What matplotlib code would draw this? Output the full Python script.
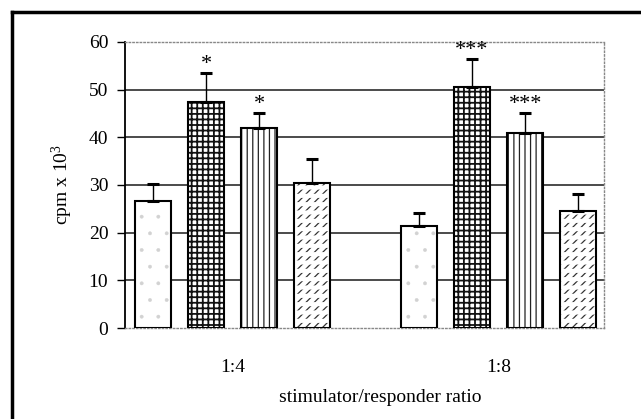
import numpy as np
import matplotlib
matplotlib.use('Agg')
import matplotlib.pyplot as plt
from matplotlib.lines import Line2D

plt.rcParams['font.family'] = ['Liberation Serif', 'DejaVu Serif']
plt.rcParams['mathtext.default'] = 'regular'
plt.rcParams['font.size'] = 14

# data
groups = ['1:4', '1:8']
means = [
    [26.6, 21.3],   # plain / stippled
    [47.5, 50.6],   # dark grid
    [41.9, 40.9],   # vertical lines
    [30.4, 24.6],   # diagonal dashes
]
errs = [
    [3.6, 2.8],
    [6.0, 5.8],
    [3.2, 4.2],
    [5.0, 3.6],
]
stars = [
    ['', ''],
    ['*', '***'],
    ['*', '***'],
    ['', ''],
]
yticks = [0, 10, 20, 30, 40, 50, 60]

# pattern, hatch colour, hatch line width
styles = [
    ('.', '#d2d2d2', 0.3),
    ('+++', '#111111', 1.3),
    ('|||', '#222222', 0.9),
    ('////', '#333333', 0.9),
]

fig = plt.figure(figsize=(6.41, 4.19), dpi=100)
ax = fig.add_axes([0.195, 0.217, 0.747, 0.683])

x = np.arange(len(groups))
offs = [-0.3, -0.1, 0.1, 0.3]
w = 0.135

# solid gridlines for inner ticks
for yv in yticks[1:-1]:
    ax.axhline(yv, color='#1a1a1a', lw=1.1, zorder=1)

for i in range(len(means)):
    hatch, hc, hlw = styles[i]
    pos = x + offs[i]
    bars = ax.bar(pos, means[i], w, color='white', edgecolor=hc, hatch=hatch,
                  linewidth=0, zorder=2)
    for b in bars:
        try:
            b.set_hatch_linewidth(hlw)
        except AttributeError:
            pass
    if i == 3:
        # break the diagonals into short dashes
        cut = ax.bar(pos, means[i], w, fill=False, edgecolor='white', hatch='--',
                     linewidth=0, zorder=2.5)
        for b in cut:
            try:
                b.set_hatch_linewidth(3.0)
            except AttributeError:
                pass
    ax.bar(pos, means[i], w, fill=False, edgecolor='black', linewidth=1.5, zorder=3)
    ax.errorbar(pos, means[i], yerr=[np.zeros(len(groups)), errs[i]], fmt='none',
                ecolor='black', elinewidth=1.0, capsize=4, capthick=2.2, zorder=4)
    for j in range(len(groups)):
        if stars[i][j]:
            ax.text(pos[j], means[i][j] + errs[i][j] - 0.2, stars[i][j],
                    ha='center', va='bottom', fontsize=16)

ax.set_xlim(-0.405, 1.396)
ax.set_ylim(0, 60)
ax.set_yticks(yticks)
ax.set_xticks(x)
ax.set_xticklabels(groups)
ax.tick_params(axis='x', length=0, pad=22)
ax.tick_params(axis='y', length=6, width=1, direction='out', pad=6)
ax.set_ylabel('cpm x 10$^{3}$', labelpad=10)

for s in ['top', 'right', 'bottom']:
    ax.spines[s].set_linestyle(':')
    ax.spines[s].set_color('#888888')
    ax.spines[s].set_linewidth(1.0)
ax.spines['left'].set_linewidth(1.3)

fig.text(380 / 641, 1 - 397 / 419, 'stimulator/responder ratio', ha='center', va='center', fontsize=14)

# outer frame (top and left only)
fig.add_artist(Line2D([12 / 641, 1.0], [1 - 12 / 419, 1 - 12 / 419], color='black', lw=2.5))
fig.add_artist(Line2D([12 / 641, 12 / 641], [0.0, 1 - 12 / 419], color='black', lw=2.5))

fig.savefig('out.png', dpi=100)
